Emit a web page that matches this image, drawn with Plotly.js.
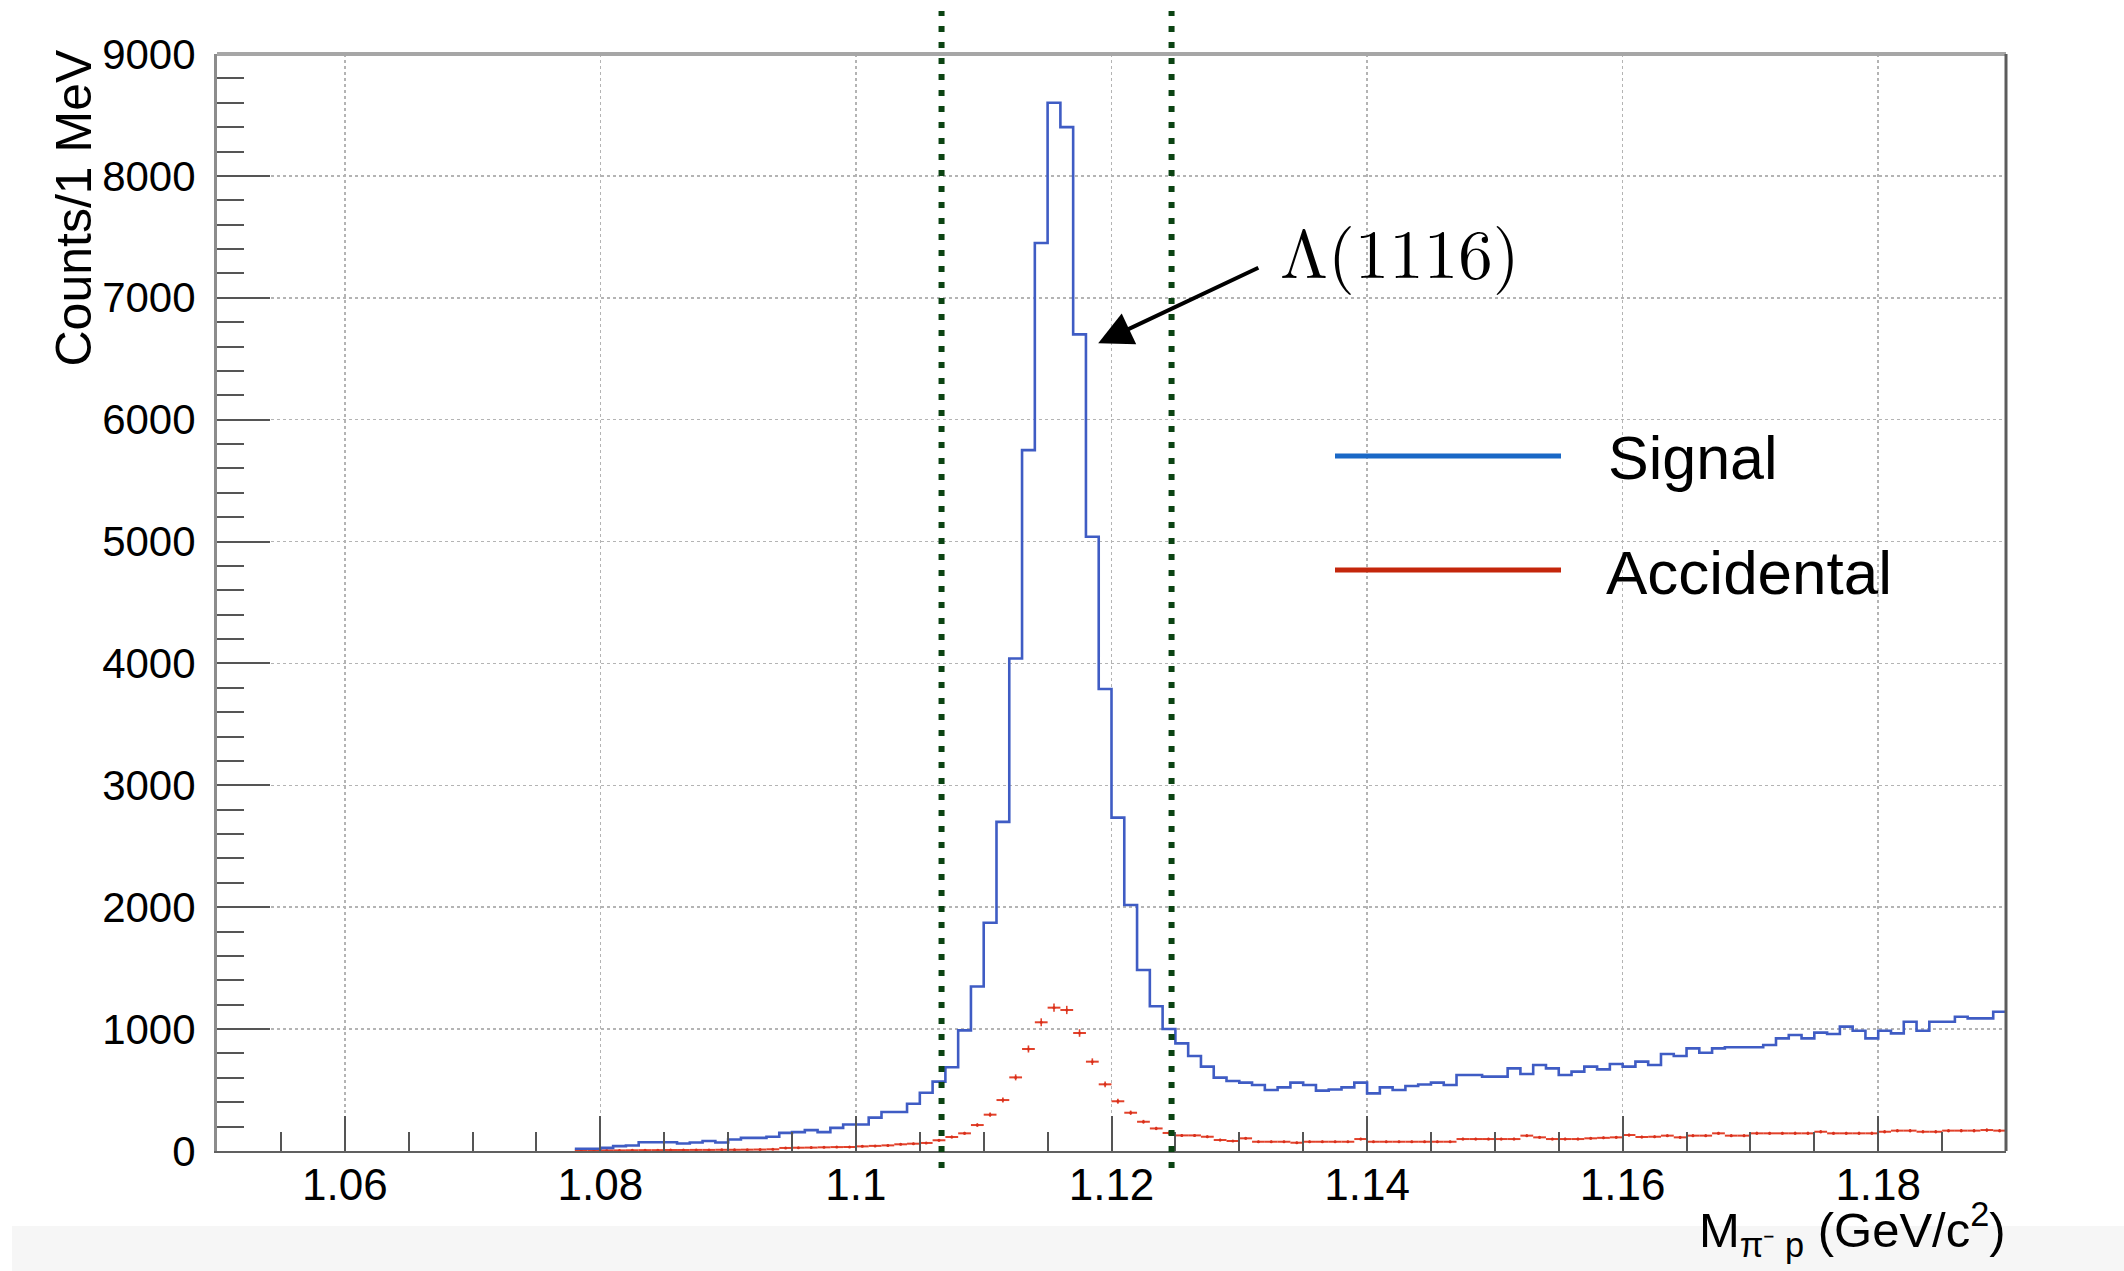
<!DOCTYPE html>
<html>
<head>
<meta charset="utf-8">
<script src="https://cdn.plot.ly/plotly-3.0.1.min.js"></script>
<style>
  html, body { margin: 0; padding: 0; background: #ffffff; }
  #chart { width: 2124px; height: 1271px; }
</style>
</head>
<body>
<div id="chart"></div>
<script>
// pi- p invariant mass, 1 MeV bins starting at 1.078 GeV/c^2
const binStart = 1.078;
const binWidth = 0.001;

// Signal counts per 1 MeV bin (1.078 ... 1.189)
const signalCounts = [
  18, 18, 26, 40, 45, 72, 72, 72, 62, 70,
  82, 70, 94, 108, 108, 117, 149, 155, 171, 155,
  190, 217, 217, 274, 320, 320, 388, 478, 569, 687,
  990, 1350, 1873, 2700, 4040, 5750, 7450, 8600, 8400, 6700,
  5040, 3790, 2735, 2018, 1485, 1187, 1001, 883, 780, 692,
  602, 574, 561, 541, 500, 522, 561, 541, 495, 505,
  522, 561, 473, 522, 500, 533, 546, 561, 541, 623,
  623, 610, 610, 678, 632, 705, 678, 623, 651, 692,
  670, 714, 692, 733, 705, 796, 779, 842, 806, 842,
  851, 851, 851, 870, 924, 952, 924, 971, 960, 1020,
  987, 924, 987, 965, 1061, 987, 1061, 1061, 1102, 1088,
  1088, 1143
];

// Accidental (out-of-time) counts per 1 MeV bin, same binning
const accidentalCounts = [
  3, 4, 5, 5, 6, 7, 7, 8, 8, 9,
  9, 10, 10, 11, 12, 14, 25, 27, 28, 30,
  32, 33, 38, 42, 46, 55, 60, 66, 88, 115,
  145, 213, 298, 418, 604, 837, 1056, 1176, 1157, 968,
  733, 547, 408, 314, 240, 185, 148, 128, 128, 117,
  90, 82, 104, 76, 76, 76, 68, 76, 76, 76,
  76, 98, 76, 76, 76, 76, 76, 76, 76, 98,
  98, 98, 98, 98, 126, 112, 98, 98, 98, 104,
  108, 112, 131, 115, 117, 126, 112, 126, 126, 145,
  126, 126, 145, 145, 145, 145, 145, 158, 145, 145,
  145, 145, 158, 167, 167, 158, 158, 167, 167, 167,
  172, 167
];

// Lambda selection window (GeV/c^2)
const cutEdges = [1.1067, 1.1247];

const xTickVals = [1.06, 1.08, 1.1, 1.12, 1.14, 1.16, 1.18];
const xTickText = ['1.06', '1.08', '1.1', '1.12', '1.14', '1.16', '1.18'];
const yTickVals = [0, 1000, 2000, 3000, 4000, 5000, 6000, 7000, 8000, 9000];
const yTickText = ['0', '1000', '2000', '3000', '4000', '5000', '6000', '7000', '8000', '9000'];

const seriesNames = ['Signal', 'Accidental'];
const peakLabel = '\u039B(1116)';
const peakArrowHead = [1.11896, 6626];
const peakArrowTail = [1.13161, 7252];
const peakLabelPos = [1.1330, 7400];

// bin edges / centres for drawing
const edges = signalCounts.map((_, i) => +(binStart + i * binWidth).toFixed(4));
const lastEdge = +(binStart + signalCounts.length * binWidth).toFixed(4);
const centres = accidentalCounts.map((_, i) => +(binStart + (i + 0.5) * binWidth).toFixed(5));

const sans = '"Liberation Sans", Arial, Helvetica, sans-serif';
const serif = '"Latin Modern Roman", "CMU Serif", "Liberation Serif", "DejaVu Serif", serif';

const signalTrace = {
  type: 'scatter',
  mode: 'lines',
  name: seriesNames[0],
  x: edges.concat([lastEdge]),
  y: signalCounts.concat([signalCounts[signalCounts.length - 1]]),
  line: { shape: 'hv', color: '#3f5cc4', width: 2.6 },
  showlegend: false,
  hoverinfo: 'x+y'
};

const accidentalTrace = {
  type: 'scatter',
  mode: 'markers',
  name: seriesNames[1],
  x: centres,
  y: accidentalCounts,
  marker: { size: 3, color: '#d8301c' },
  error_x: { type: 'constant', value: binWidth / 2, width: 0, thickness: 2, color: '#e2412a' },
  error_y: { type: 'sqrt', width: 0, thickness: 1.6, color: '#e2412a' },
  showlegend: false
};

// plot-area pixel geometry used for paper-space placement
const W = 2124, H = 1271;
const M = { l: 217, r: 118, t: 54, b: 120 };
const PW = W - M.l - M.r, PH = H - M.t - M.b;
const px = (x) => (x - M.l) / PW;
const py = (y) => (H - M.b - y) / PH;

const shapes = [
  // light band along the bottom of the canvas
  { type: 'rect', xref: 'paper', yref: 'paper', x0: px(12), x1: px(W), y0: py(1226), y1: py(H),
    fillcolor: '#f6f6f6', line: { width: 0 }, layer: 'below' },
  // frame: top and right edges
  { type: 'line', xref: 'paper', yref: 'paper', x0: 0, x1: 1, y0: 1, y1: 1,
    line: { color: '#a6a6a6', width: 4 } },
  { type: 'line', xref: 'paper', yref: 'paper', x0: 1, x1: 1, y0: 0, y1: 1,
    line: { color: '#5c5c5c', width: 3 } },
  // legend samples
  { type: 'line', xref: 'paper', yref: 'paper', x0: px(1335), x1: px(1561), y0: py(456), y1: py(456),
    line: { color: '#1a68c6', width: 5 } },
  { type: 'line', xref: 'paper', yref: 'paper', x0: px(1335), x1: px(1561), y0: py(570), y1: py(570),
    line: { color: '#c4260b', width: 5 } }
];
cutEdges.forEach((c) => {
  shapes.push({ type: 'line', xref: 'x', yref: 'paper', x0: c, x1: c, y0: py(1168), y1: py(11),
    line: { color: '#0b4312', width: 6, dash: '6px,10px' }, layer: 'above' });
});

const annotations = [
  { xref: 'x', yref: 'y', x: peakLabelPos[0], y: peakLabelPos[1], text: peakLabel,
    showarrow: false, xanchor: 'left', yanchor: 'middle',
    font: { family: serif, size: 69, color: '#000' } },
  { xref: 'x', yref: 'y', x: peakArrowHead[0], y: peakArrowHead[1],
    axref: 'x', ayref: 'y', ax: peakArrowTail[0], ay: peakArrowTail[1],
    text: '', showarrow: true, arrowhead: 2, arrowsize: 1.7, arrowwidth: 4,
    arrowcolor: '#000', standoff: 0, startstandoff: 0 },
  { xref: 'paper', yref: 'paper', x: px(1606), y: py(458), text: seriesNames[0],
    showarrow: false, xanchor: 'left', yanchor: 'middle',
    font: { family: sans, size: 61, color: '#000' } },
  { xref: 'paper', yref: 'paper', x: px(1604), y: py(572), text: seriesNames[1],
    showarrow: false, xanchor: 'left', yanchor: 'middle',
    font: { family: sans, size: 62, color: '#000' } },
  { xref: 'paper', yref: 'paper', x: px(73), y: py(48), text: 'Counts/1 MeV',
    textangle: -90, showarrow: false, xanchor: 'center', yanchor: 'top',
    font: { family: sans, size: 50, color: '#000' } },
  { xref: 'paper', yref: 'paper', x: px(2008), y: py(1193),
    text: 'M<sub>\u03C0\u207B p</sub> (GeV/c<sup>2</sup>)',
    showarrow: false, xanchor: 'right', yanchor: 'top',
    font: { family: sans, size: 49, color: '#000' } }
];

const layout = {
  width: W,
  height: H,
  margin: M,
  paper_bgcolor: '#ffffff',
  plot_bgcolor: '#ffffff',
  showlegend: false,
  xaxis: {
    range: [1.05, 1.19],
    tickmode: 'array',
    tickvals: xTickVals,
    ticktext: xTickText,
    ticks: 'inside',
    ticklen: 35,
    tickwidth: 2,
    tickcolor: '#555555',
    ticklabelstandoff: -6,
    tickfont: { family: sans, size: 44, color: '#000' },
    minor: { tickmode: 'linear', tick0: 1.05, dtick: 0.005, ticks: 'inside', ticklen: 19,
             tickwidth: 2, tickcolor: '#555555', showgrid: false },
    showgrid: true,
    gridcolor: '#b4b4b4',
    gridwidth: 1.5,
    griddash: 'dot',
    zeroline: false,
    showline: true,
    linecolor: '#606060',
    linewidth: 2
  },
  yaxis: {
    range: [0, 9000],
    tickmode: 'array',
    tickvals: yTickVals,
    ticktext: yTickText,
    ticks: 'inside',
    ticklen: 53,
    tickwidth: 2,
    tickcolor: '#555555',
    ticklabelstandoff: 10,
    tickfont: { family: sans, size: 42, color: '#000' },
    minor: { tickmode: 'linear', tick0: 0, dtick: 200, ticks: 'inside', ticklen: 27,
             tickwidth: 2, tickcolor: '#555555', showgrid: false },
    showgrid: true,
    gridcolor: '#b4b4b4',
    gridwidth: 1.5,
    griddash: 'dot',
    zeroline: false,
    showline: true,
    linecolor: '#8c8c8c',
    linewidth: 3
  },
  shapes: shapes,
  annotations: annotations
};

Plotly.newPlot('chart', [accidentalTrace, signalTrace], layout, { displayModeBar: false, staticPlot: true });
</script>
</body>
</html>
